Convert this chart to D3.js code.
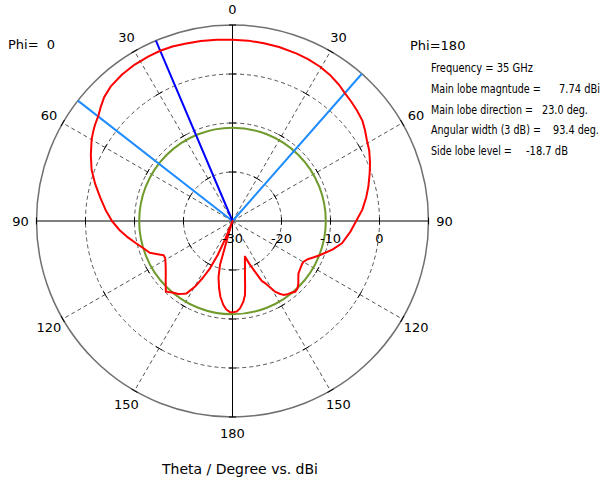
<!DOCTYPE html>
<html>
<head>
<meta charset="utf-8">
<script src="https://cdn.jsdelivr.net/npm/d3@7"></script>
<style>
  body { margin: 0; background: #fff; }
  svg { display: block; }
</style>
</head>
<body>
<svg id="chart" width="613" height="481"></svg>
<script>
// Farfield cut, gain in dBi versus theta, for the two half planes
const thetaPhi0 = [0, 5, 10, 15, 19, 23, 27, 32, 37, 42, 46, 49, 52.1, 55, 57, 60, 65, 70, 75, 80, 85, 90, 95, 98.4,
  103, 107, 111, 114, 116.5, 119, 120.5, 124, 128.9, 132, 136.6, 138, 140, 143.4, 146, 147.6, 150.3, 152.5, 154.6,
  156.5, 158, 159.5, 161.5, 162.5, 163.3, 164.1, 166, 168.7, 171, 173.7, 176, 178.4, 180];
const gainPhi0 = [7.0, 7.15, 7.3, 7.45, 7.65, 7.74, 7.72, 7.65, 7.45, 7.05, 6.4, 5.6, 4.74, 4.25, 3.85, 3.2, 1.9, 0.6,
  -1.0, -2.6, -4.0, -5.4, -7.0, -8.2, -9.8, -11.0, -11.9, -13.3, -14.3, -14.3, -14.1, -13.55, -12.5, -11.65, -10.2,
  -10.5, -10.96, -11.45, -12.1, -12.5, -14.6, -17.0, -19.3, -22.5, -26.0, -31.0, -31.0, -29.0, -27.0, -20.7, -18.2,
  -16.0, -14.3, -12.8, -11.9, -11.4, -11.35];

const thetaPhi180 = [0, 5, 10, 15, 21, 25, 29.6, 34, 38, 41.3, 45, 48.2, 52.3, 55.5, 59, 62.7, 67.2, 71, 75.8, 80, 85,
  89.5, 95, 101.5, 106, 111.2, 114, 117, 119.9, 122, 125, 128.5, 131, 133.4, 136, 138.5, 140.1, 143, 145.5, 147, 149,
  152.4, 154, 156.1, 158.5, 160.7, 162.5, 164.1, 167, 169, 170.4, 172.5, 175.1, 177.3, 180];
const gainPhi180 = [7.0, 6.95, 6.85, 6.75, 6.6, 6.45, 6.2, 5.8, 5.3, 4.74, 4.35, 4.0, 3.5, 2.8, 2.0, 1.4, 0.45, -0.4,
  -1.4, -2.3, -3.4, -4.65, -5.8, -7.2, -8.8, -10.8, -11.8, -12.8, -13.3, -13.3, -13.1, -12.8, -12.2, -11.5, -10.9,
  -10.7, -11.0, -11.3, -11.7, -12.3, -13.2, -15.7, -16.4, -18.7, -20.6, -22.3, -21.6, -20.7, -18.7, -16.5, -14.7,
  -13.3, -12.1, -11.5, -11.35];

// Main lobe summary
const mainLobeMagnitude = 7.74;   // dBi
const mainLobeDirection = 23.0;   // deg, phi = 0 half plane
const beamEdgePhi0 = 52.1;        // 3 dB edge, phi = 0 half plane
const beamEdgePhi180 = 41.3;      // 3 dB edge, phi = 180 half plane
const sideLobeLevel = -18.7;      // dB relative to main lobe

// Axis ticks and labels
const radialTicks = [-30, -20, -10, 0];
const gridRings = [-20, -10, 0];
const angleTicks = [0, 30, 60, 90, 120, 150, 180];
const infoLabels = ["Frequency = 35 GHz", "Main lobe magntude =", "Main lobe direction =",
  "Angular width (3 dB) =", "Side lobe level ="];
const infoValues = ["", "7.74 dBi", "23.0 deg.", "93.4 deg.", "-18.7 dB"];

// summary block layout: label widths, value right edges and widths
const infoLabelWidths = [102, 110, 102, 110, 81];
const infoValueEnds = [0, 600, 588, 599, 568];
const infoValueWidths = [0, 41, 46, 46, 42];

const svg = d3.select("#chart");
const cx = 232.5, cy = 221, R = 196;
const r = d3.scaleLinear().domain([-30, 10]).range([0, R]).clamp(true);
const rad = d => d * Math.PI / 180;
// signed screen angle: phi = 0 on the left (negative), phi = 180 on the right
const pt = (a, rr) => [cx + rr * Math.sin(rad(a)), cy - rr * Math.cos(rad(a))];

const g = svg.append("g");

// dashed rings
g.selectAll("circle.ring").data(gridRings).join("circle")
  .attr("cx", cx).attr("cy", cy).attr("r", d => r(d))
  .attr("fill", "none").attr("stroke", "#555").attr("stroke-width", 1)
  .attr("stroke-dasharray", "4,3");

// dashed spokes
const spokes = [];
angleTicks.filter(t => t % 90 !== 0).forEach(t => { spokes.push(-t); spokes.push(t); });
g.selectAll("line.spoke").data(spokes).join("line")
  .attr("x1", cx).attr("y1", cy)
  .attr("x2", d => pt(d, R)[0]).attr("y2", d => pt(d, R)[1])
  .attr("stroke", "#555").attr("stroke-width", 1).attr("stroke-dasharray", "4,3");

// outer circle
g.append("circle").attr("cx", cx).attr("cy", cy).attr("r", R)
  .attr("fill", "none").attr("stroke", "#707070").attr("stroke-width", 1.5);

// solid axes
g.append("line").attr("x1", cx - R).attr("x2", cx + R).attr("y1", cy).attr("y2", cy)
  .attr("stroke", "#000").attr("stroke-width", 1);
g.append("line").attr("x1", cx).attr("x2", cx).attr("y1", cy - R).attr("y2", cy + R)
  .attr("stroke", "#000").attr("stroke-width", 1);

// small ticks where rings cross the spokes
const tickData = [];
const allAngles = [];
angleTicks.forEach(t => { allAngles.push(t); if (t > 0 && t < 180) allAngles.push(-t); });
allAngles.forEach(a => {
  gridRings.concat([10]).forEach(v => tickData.push({ a, rr: r(v) }));
});
g.selectAll("line.tick").data(tickData).join("line")
  .attr("x1", d => pt(d.a, d.rr)[0] + 3.5 * Math.cos(rad(d.a)))
  .attr("y1", d => pt(d.a, d.rr)[1] + 3.5 * Math.sin(rad(d.a)))
  .attr("x2", d => pt(d.a, d.rr)[0] - 3.5 * Math.cos(rad(d.a)))
  .attr("y2", d => pt(d.a, d.rr)[1] - 3.5 * Math.sin(rad(d.a)))
  .attr("stroke", "#000").attr("stroke-width", 1);

// side lobe level circle
g.append("circle").attr("cx", cx).attr("cy", cy)
  .attr("r", r(mainLobeMagnitude + sideLobeLevel))
  .attr("fill", "none").attr("stroke", "#6f9a2c").attr("stroke-width", 2);

// 3 dB beam edges
g.selectAll("line.edge").data([-beamEdgePhi0, beamEdgePhi180]).join("line")
  .attr("x1", cx).attr("y1", cy)
  .attr("x2", d => pt(d, R)[0]).attr("y2", d => pt(d, R)[1])
  .attr("stroke", "#1e8cff").attr("stroke-width", 2);

// main lobe direction
g.append("line").attr("x1", cx).attr("y1", cy)
  .attr("x2", pt(-mainLobeDirection, R)[0]).attr("y2", pt(-mainLobeDirection, R)[1])
  .attr("stroke", "#0000ff").attr("stroke-width", 2);

// pattern curve: phi = 0 from theta 180 up to 0, then phi = 180 from 0 down to 180
const pattern = [];
for (let i = thetaPhi0.length - 1; i >= 0; i--) pattern.push([-thetaPhi0[i], gainPhi0[i]]);
for (let i = 1; i < thetaPhi180.length; i++) pattern.push([thetaPhi180[i], gainPhi180[i]]);
const radial = d3.lineRadial().angle(d => rad(d[0])).radius(d => r(d[1]));
g.append("path").attr("transform", `translate(${cx},${cy})`)
  .attr("d", radial(pattern))
  .attr("fill", "none").attr("stroke", "#ff0000").attr("stroke-width", 2)
  .attr("stroke-linejoin", "round");

// angle labels
const font = "'DejaVu Sans', sans-serif";
const angleLabelData = [];
angleTicks.forEach(t => {
  angleLabelData.push({ a: t, t });
  if (t > 0 && t < 180) angleLabelData.push({ a: -t, t });
});
g.selectAll("text.ang").data(angleLabelData).join("text")
  .attr("x", d => pt(d.a, 212)[0]).attr("y", d => pt(d.a, 212)[1])
  .attr("dy", "0.36em").attr("text-anchor", "middle")
  .attr("font-family", font).attr("font-size", 13).attr("fill", "#000")
  .text(d => d.t);

// radial labels
g.selectAll("text.rad").data(radialTicks).join("text")
  .attr("x", d => cx + r(d)).attr("y", cy + 22)
  .attr("text-anchor", "middle")
  .attr("font-family", font).attr("font-size", 13).attr("fill", "#000")
  .text(d => d);

// half plane labels
g.append("text").attr("x", 8).attr("y", 49).attr("font-family", font).attr("font-size", 13)
  .attr("xml:space", "preserve").style("white-space", "pre").text("Phi=  0");
g.append("text").attr("x", 410).attr("y", 50).attr("font-family", font).attr("font-size", 13)
  .text("Phi=180");

// summary block, set in a horizontally condensed face
function condensedText(x, y, s, width) {
  const t = g.append("text").attr("x", 0).attr("y", 0)
    .attr("font-family", font).attr("font-size", 12.5).attr("fill", "#000").text(s);
  const natural = t.node().getComputedTextLength();
  t.attr("transform", `translate(${x},${y}) scale(${width / natural},1)`);
}
infoLabels.forEach((s, i) => {
  const y = 72 + i * 20.8;
  condensedText(431, y, s, infoLabelWidths[i]);
  if (infoValues[i]) {
    condensedText(infoValueEnds[i] - infoValueWidths[i], y, infoValues[i], infoValueWidths[i]);
  }
});

// axis title
g.append("text").attr("x", 240).attr("y", 474).attr("text-anchor", "middle")
  .attr("font-family", font).attr("font-size", 14).attr("fill", "#000")
  .text("Theta / Degree vs. dBi");
</script>
</body>
</html>
